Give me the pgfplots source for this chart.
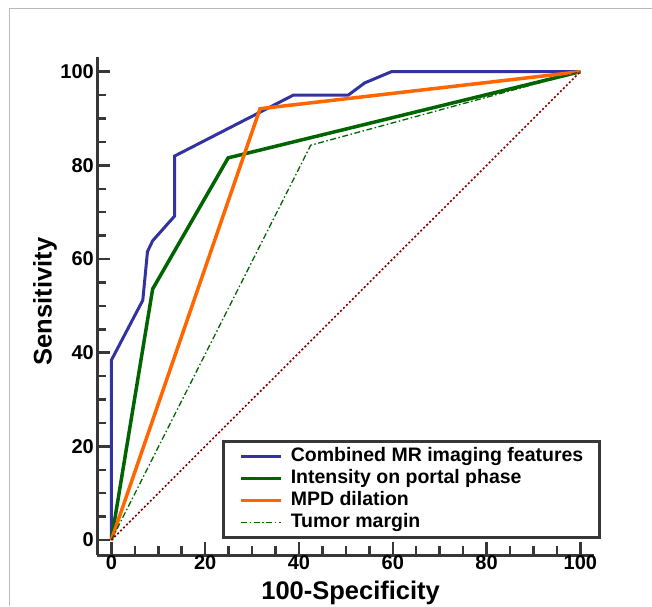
\documentclass[border=0pt]{standalone}
\usepackage{fontspec}
\setmainfont{Liberation Sans}
\usepackage{pgfplots}
\pgfplotsset{compat=1.18}

\definecolor{rocblue}{RGB}{50,50,160}
\definecolor{rocgreen}{RGB}{0,100,0}
\definecolor{rocorange}{RGB}{255,102,0}
\definecolor{rocred}{RGB}{128,0,0}
\definecolor{axisgray}{RGB}{55,55,55}

\begin{document}
\begin{tikzpicture}
\draw[gray!55, line width=1pt] (9pt,-606pt) -- (9pt,-8.5pt) -- (652pt,-8.5pt);
\begin{axis}[
  at={(97.3pt,-555pt)}, anchor=south west,
  scale only axis, width=496.7pt, height=498.3pt,
  xmin=-3.0, xmax=102.9, ymin=-3.2, ymax=103.2,
  axis x line=bottom, axis y line=left,
  axis line style={-, line width=3pt, color=axisgray},
  xtick={0,20,...,100}, ytick={0,20,...,100},
  minor tick num=3,
  tick align=inside,
  major tick length=13pt, minor tick length=9pt,
  every tick/.style={line width=2.5pt, color=axisgray},
  /pgf/number format/assume math mode=true,
  ticklabel style={font=\bfseries\fontsize{20}{24}\selectfont},
  xticklabel style={yshift=3pt},
  xlabel={100-Specificity}, ylabel={Sensitivity},
  label style={font=\bfseries\fontsize{25.5}{30}\selectfont},
  xlabel style={at={(axis description cs:0.51,-0.0763)}, anchor=center},
  ylabel style={at={(axis description cs:-0.1053,0.5087)}, anchor=center},
  legend style={
    at={(axis description cs:0.2511,0.2308)}, anchor=north west,
    draw=axisgray, line width=2.5pt, fill=white,
    font=\bfseries\fontsize{19.5}{22}\selectfont,
    inner xsep=16pt, inner ysep=4pt, column sep=8pt, row sep=0pt,
    nodes={inner xsep=0pt, inner ysep=1pt, text height=15pt, text depth=5pt},
  },
  legend cell align=left,
  legend image code/.code={\draw[#1] (0pt,0pt) -- (40pt,0pt);},
]
\addplot[rocblue, line width=3pt] coordinates {
  (0,0)(0,38.4)(6.7,51.2)(7.7,61.6)(8.8,63.9)(13.5,69.2)(13.5,82.0)
  (38.8,95.0)(50.5,95.0)(54.0,97.6)(59.7,100)(100,100)};
\addlegendentry{Combined MR imaging features}
\addplot[rocgreen, line width=3.5pt] coordinates {
  (0,0)(8.8,53.6)(24.9,81.6)(100,100)};
\addlegendentry{Intensity on portal phase}
\addplot[rocorange, line width=3.5pt] coordinates {
  (0,0)(31.7,92.1)(100,100)};
\addlegendentry{MPD dilation}
\addplot[rocgreen, line width=1.3pt, dash pattern=on 6pt off 2.5pt on 1.5pt off 2.5pt] coordinates {
  (0,0)(42.5,84.3)(100,100)};
\addlegendentry{Tumor margin}
\addplot[rocred, line width=1.6pt, dash pattern=on 2pt off 2.2pt, forget plot] coordinates {
  (0,0)(100,100)};
\end{axis}
\pgfresetboundingbox
\useasboundingbox (0pt,0pt) rectangle (652pt,-606pt);
\end{tikzpicture}
\end{document}
